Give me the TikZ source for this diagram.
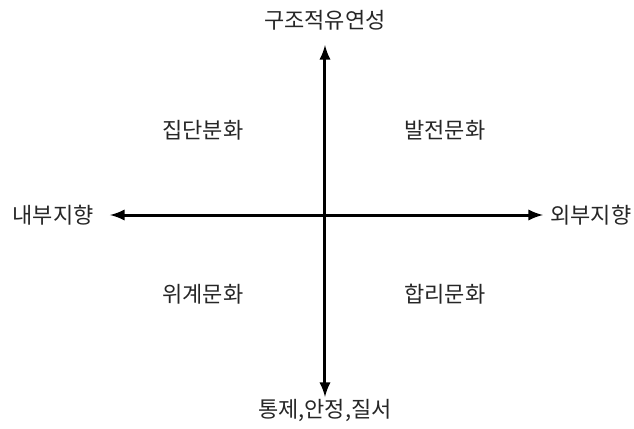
\documentclass[tikz,border=0pt]{standalone}
\usepackage{fontspec}
\setmainfont{Noto Sans CJK KR}
\usetikzlibrary{arrows}

\begin{document}
\begin{tikzpicture}[x=0.5pt,y=-0.5pt,>=latex,
  axislabel/.style={font=\fontsize{11}{13}\selectfont,text=black!85},
  quadlabel/.style={font=\fontsize{11}{13}\selectfont,text=black!85}]
\useasboundingbox (0,0) rectangle (634,429);
\coordinate (up) at (325,45);
\coordinate (down) at (325,397);
\coordinate (west) at (110,215);
\coordinate (east) at (543,215);
\draw[<->,line width=1.5pt] (down) -- (up);
\draw[<->,line width=1.5pt] (west) -- (east);
\node[axislabel] (flex) at (325,20) {구조적유연성};
\node[axislabel] (ctrl) at (325,410) {통제,안정,질서};
\node[axislabel] (inner) at (53,215) {내부지향};
\node[axislabel] (outer) at (591,215) {외부지향};
\node[quadlabel] (group) at (203,130) {집단분화};
\node[quadlabel] (devel) at (445,130) {발전문화};
\node[quadlabel] (hier) at (203,294) {위계문화};
\node[quadlabel] (ratio) at (445,294) {합리문화};
\end{tikzpicture}
\end{document}
